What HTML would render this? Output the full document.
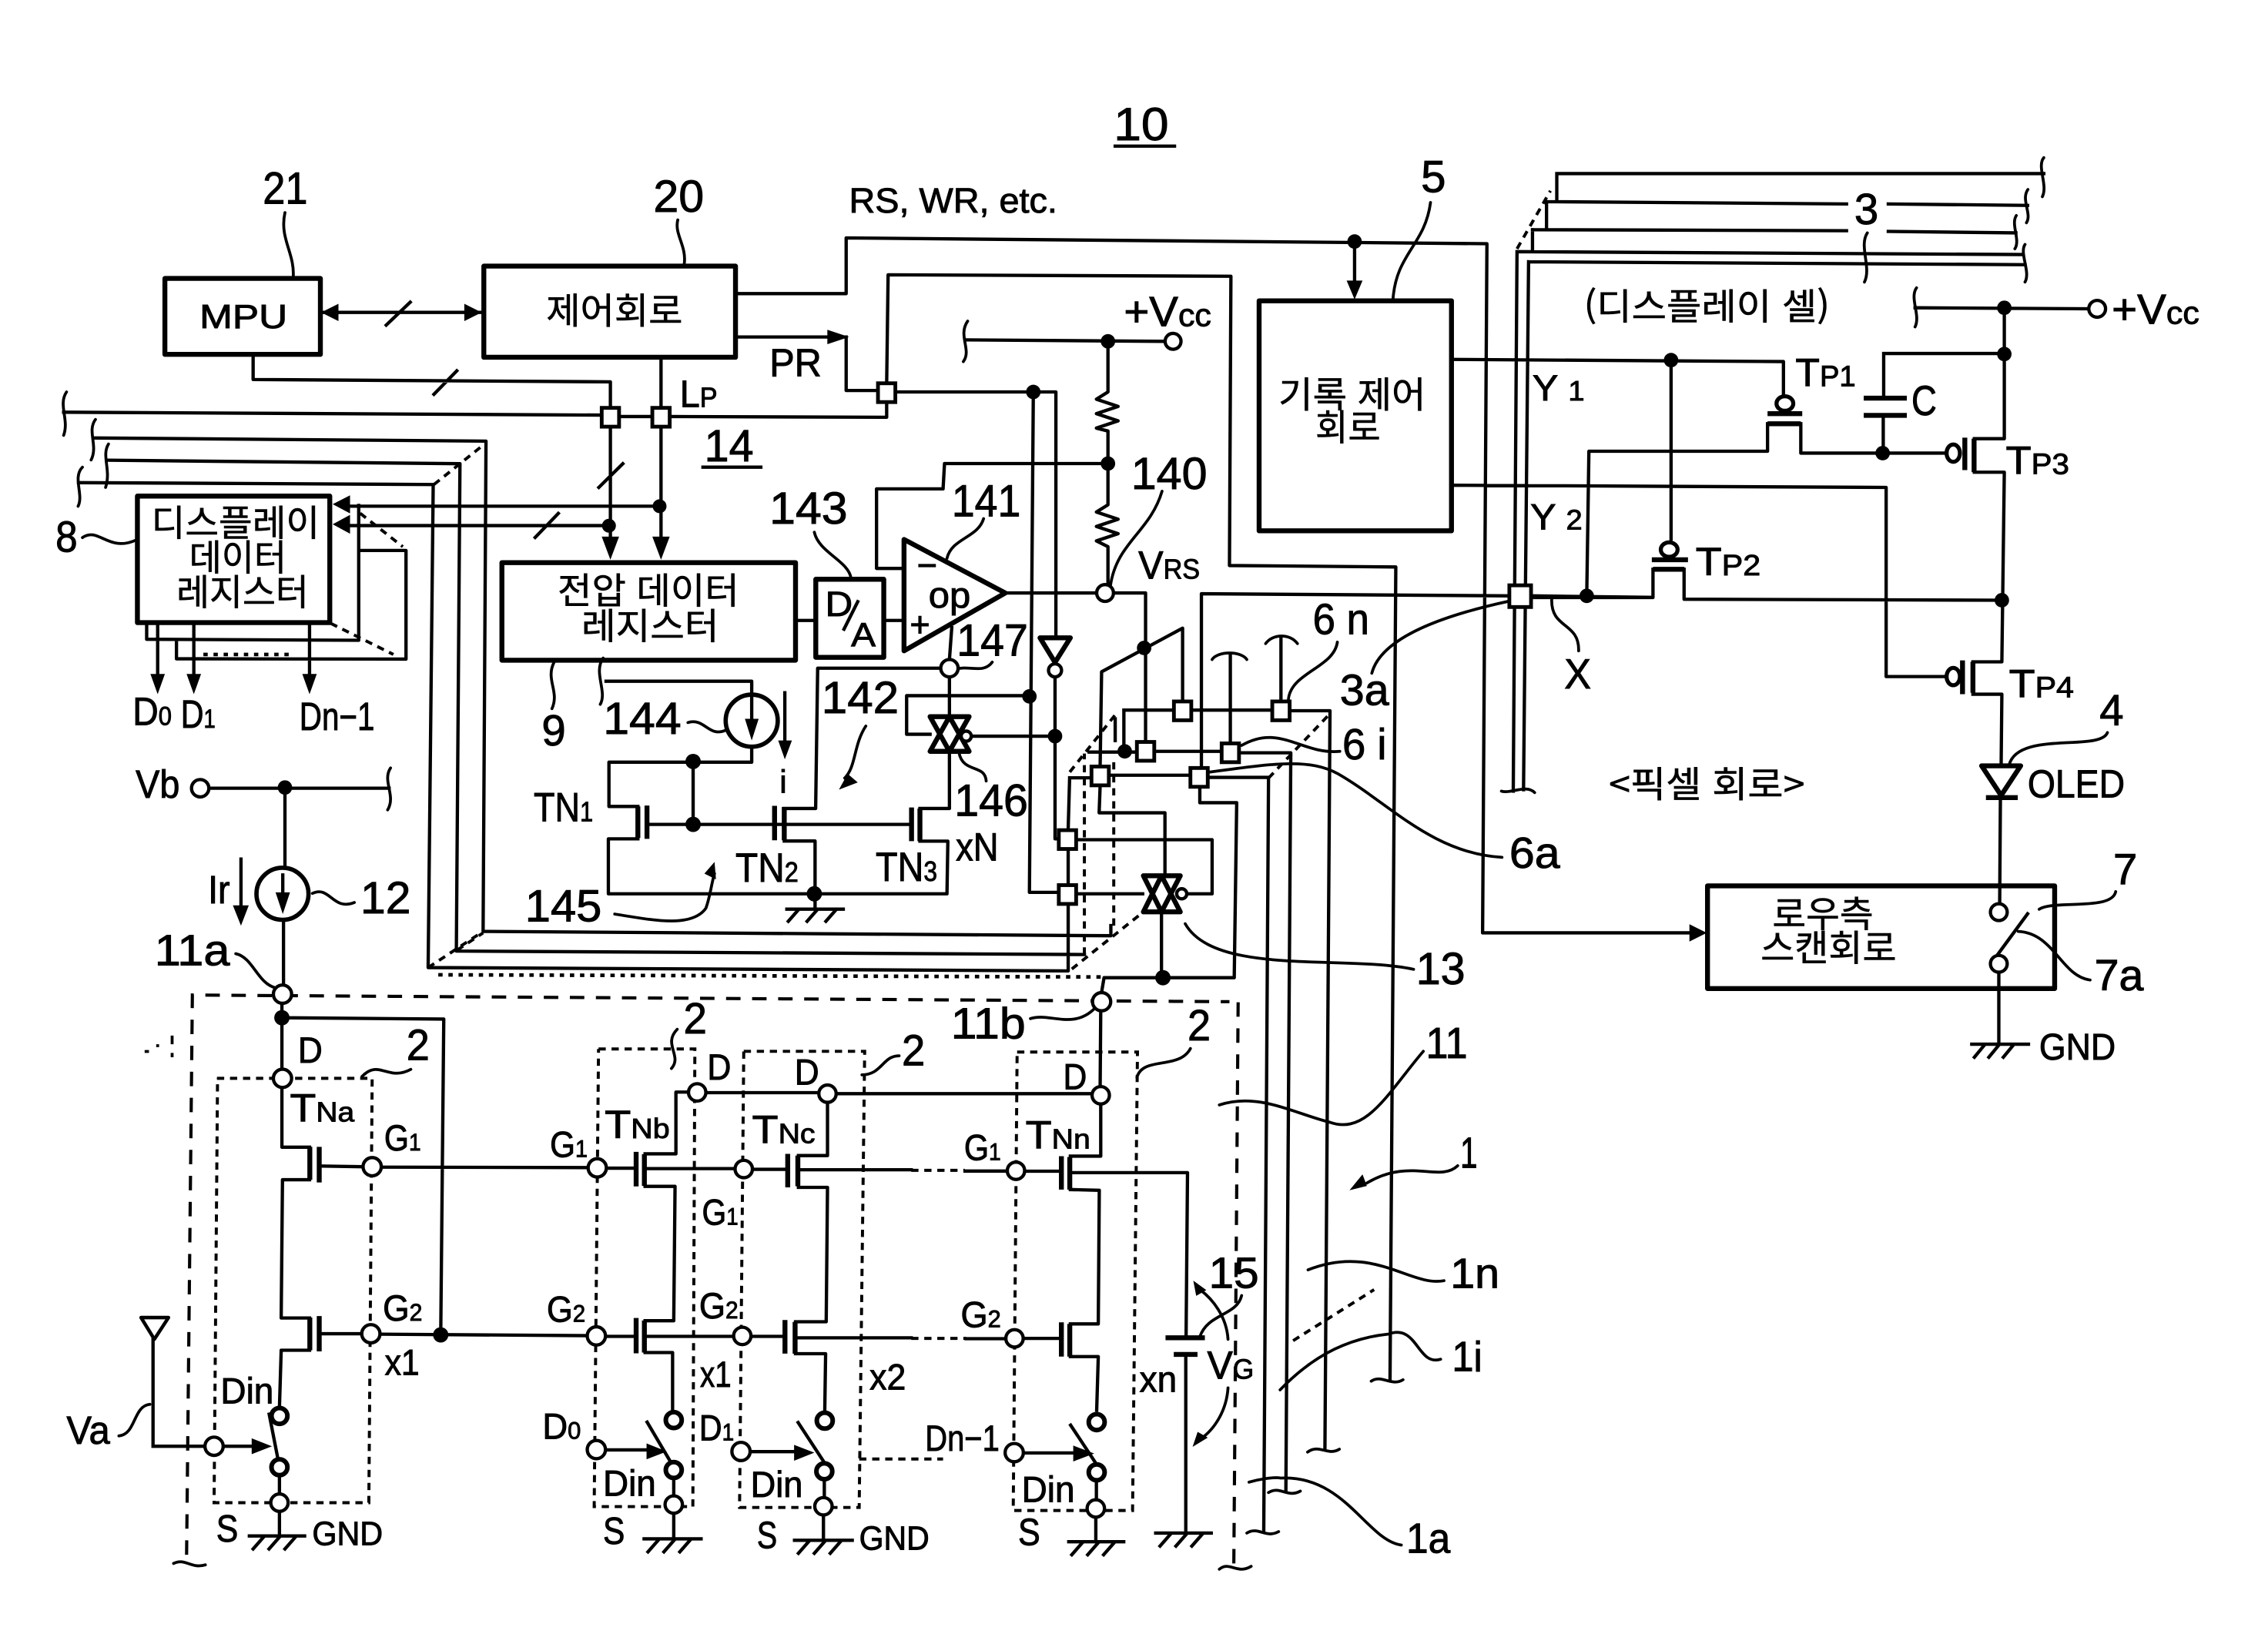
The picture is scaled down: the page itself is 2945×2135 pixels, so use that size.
<!DOCTYPE html>
<html lang="ko"><head><meta charset="utf-8"><title>Diagram</title>
<style>
html,body{margin:0;padding:0;background:#fff}
svg{display:block}
.w{fill:none;stroke:#000;stroke-width:2.3;stroke-linejoin:round;stroke-linecap:square}
.b{fill:none;stroke:#000;stroke-width:3.4;stroke-linejoin:round}
.c{fill:none;stroke:#000;stroke-width:2;stroke-linecap:round}
.da{fill:none;stroke:#000;stroke-width:2.2;stroke-dasharray:10 8}
.do{fill:none;stroke:#000;stroke-width:2.1;stroke-dasharray:5 4}
.dd{fill:none;stroke:#000;stroke-width:2.5;stroke-dasharray:3 4}
.k{fill:#000}
.o{fill:#fff;stroke:#000;stroke-width:2.3}
.s{fill:#fff;stroke:#000;stroke-width:2.6}
text{font-family:"Liberation Sans","Noto Sans CJK KR",sans-serif;fill:#000;stroke:#000;stroke-width:.5}
.h{font-family:"Noto Sans CJK KR","Liberation Sans",sans-serif;font-size:25px;stroke-width:.3}
</style></head><body>
<svg xmlns="http://www.w3.org/2000/svg" width="2945" height="2135" viewBox="0 0 1568 1136.7">
<rect width="1568" height="1137" fill="#fff"/>
<!-- boxes -->
<g class="b">
<rect x="114" y="192.5" width="107.5" height="52.5"/>
<rect x="334.5" y="184" width="174" height="63"/>
<rect x="95" y="343" width="133" height="87.5"/>
<rect x="347" y="389" width="203" height="67.5"/>
<rect x="564" y="400.5" width="47" height="54"/>
<rect x="870.5" y="208" width="133" height="159"/>
<rect x="1180.5" y="612.5" width="240" height="71"/>
<path d="M625,373L695,410L625,450Z"/>
<path d="M643,495.5H670L656.4,519.5ZM643,519.5H670L656.4,495.5Z"/>
<path d="M790.5,605.5H816L803,630.5ZM790.5,630.5H816L803,605.5Z"/>
<path d="M719,441H740L729.4,458Z"/>
<path d="M97.5,911L116.5,911L106.7,926Z" stroke-width="2.4"/>
<path d="M1370,529.5H1397L1383.5,550ZM1373,551.5H1395"/>
<!-- gate bars -->
<path d="M220.7,793V817.6M220.7,910V934.4M214.2,793V815.7M214.2,911V933.6"/>
<path d="M439.8,796.4V820.3M439.8,911.3V935.7M445.5,798V820M445.5,913V935.2"/>
<path d="M544.6,797.8V821M542.7,912.7V935.9M551.6,799V820.2M549.7,914V936"/>
<path d="M733.8,799.4V822.5M733.8,914.3V938M739.6,800V822.5M739.6,915.4V938"/>
<path d="M447.3,557V580M441,557.6V579.4M535.5,557.2V581M542.2,558V581M630.2,558.3V581.6M636,559V581.6"/>
<path d="M1358.4,302.6V325M1364.8,303.3V326.5M1356.8,456.6V480M1364,457.6V479"/>
<path d="M1222,286H1246M1222,293H1245M1142,387H1167M1142.8,393.6H1164.5"/>
<path d="M1288.5,275.3H1318.3M1288.5,287.2H1318.3M805.8,925H833M811.5,936.5H827.9"/>
</g>
<!-- wires -->
<path class="w" d="M222,216H333M267,224.8L283.6,208.9
M175,247V262.4L422,264V283M300,272.6L315.8,256.4
M457,248V283
M422,294V378M457,294V378M414,337L430.6,320.6M370,371.6L386,355
M44,285L416,287M428,288H451M463,288L613,288.5V277
M613,265L614,190L851,191L850,391L965,392L961,954
M509,203H585V164.5L1028,168.5L1025,645H1170
M509,233H578M585,233V270H607
M619,271H730V441M714.4,271L711.7,617H732
M729.4,467V580H733
M457,350H240M421,363.4H240
M101.4,431V442L248,442.7V349.5M122,443.6V455.5L280.7,455.7V380.6H249.2
M109,431V470M134,431V470M214,431V470
M668,235L805,236M766,236V271L758,276L773,281L758,286L773,291L758,296L766,298V349L758,354L773,359L758,364L773,369L758,374L766,378V404
M766,320.5H653L652,338H606V393H625
M695,410H758M770,410H792V513
M817.6,484V434.3L761.6,464.5L760.6,529M760.6,543L759.9,562H805.4V605M803,630V676
M830.6,530V410.5L1043,412M1059,412L1142.8,413V393.6M1164.3,393.6V414.3L1384,415
M829.5,544V555H855L853.3,676H763.3L761.6,686M761,699L760.6,751
M777,491H812M824,491H880M892,491.4H919.5L916,1002
M753,520H786M798,519.5H845M857,520.5H892.4L889,1031
M767,536H823M835,537.5H877L873.7,1059
M739.5,537.8H754M739.5,537.8L738.5,573M738.5,587V611M738.5,625V671.3L296,669L299.5,335L54.3,333.7
M74.7,318.2L318,320.6L315.5,657.6L749.7,660
M64.5,302.8L336,305L334,644L768,647V640
M777,491V519.5M771,497V512
M744,618H790M821,618H838V580.6H744
M850.6,453V514M885.6,441V485
M658,434L656.4,456M656.4,468V495M656.4,520V559H636
M650,462H565.3L563.9,559H542
M643,507.7H626.8V481H712M672,509H729
M636,581.6H655.3L654.7,618H420.6V580H441M441,557.6H421V527H519.7V516
M419,471H519.7V480M479.2,527V570M447,570H630
M542.2,581.5H563.5V618M563.5,618V628.6M544,628.6H583M552,629L545,637M565,629L558,637M578,629L571,637
M551,429H564M611,429H625
M542.6,479V515
M1004,248.5L1233,250V273M1155.3,249V372.7M1004,335.5L1304,337V467.8H1345
M1222,293V312H1098.5L1097,412M1245,293V313.3H1345.6M1302.3,244.4H1385.7M1302.3,244.4V275M1302,287V313
M1142.8,393.6V413.1H1059
M1077.6,120H1413M1076.3,120V139M1069.5,139.4L1276.6,141M1305.5,141L1401.8,142M1069.2,139.4V158M1059.5,158.8L1276.6,159.5M1305.5,160L1393.7,161M1059.5,158.8V173
M1048.8,174L1398.5,176L1398.5,176M1056.8,181L1400,183M1048.8,174L1046.2,547M1056.8,181L1053.3,546
M1324,212.8L1444,213.5M1385.7,212.8V303.3H1365M1365,326.5H1385.7L1384,457.6H1364M1364,480H1384L1383.5,529.5M1383,552L1382.5,624M1381.9,673V721.4M1363.2,722H1402.4M1372,722.5L1365,731M1382,722.5L1375,731M1392,722.5L1385,731
M1401.8,631.8L1380.9,660.3
M194.9,693V793.2H214M214,815.7H195.3L194.4,911.3H214M214,933.6H194.4L193.2,973
M194.9,703.7L306.8,704.6L304.7,923
M220.7,806.2L251,806.7M264,807L406,807.3M220.7,922.2L250,922.2M263,922.5L406,923.5
M186.1,977.8L192.2,1009M193.2,1021V1033M193.2,1045V1062M172.4,1062H210.6M182,1063L175,1071M193,1063L186,1071M204,1063L197,1071
M155,1000H175M105.8,1000H142M105.8,926V1000
M475,755.1H467.3V797.8H446M446,820.3H466.7L465.8,913.2H446M446,935.2H465V976
M447.4,983.3L464.2,1011.8M465.8,1022V1034M465.8,1047V1064M445.3,1064H484.7M455,1065L448,1073M466,1065L459,1073M477,1065L470,1073
M419,807.7H439M446,808H508M419,924H439M446,924H507
M419,1002.5H447
M488,755.5H566M578,756.2H755M572.1,762V799H552M552,821H572.1L571.2,913.9H550M550,936H570.8L570.2,976
M551.8,983.6L570.2,1011.7M569.9,1023V1035M569.3,1048V1065M549.3,1065H589.2M559,1066L552,1074M570,1066L563,1074M581,1066L574,1074
M520,808.5H544M552,808.8H630M520,924H543M550,925H630
M667.2,809.7H696M668,925.6H695
M519,1003.7H552
M761,763V799.4H740M740,822.5L760,823L759.3,915.4H740M740,938H759.3L758.2,975
M740.2,985.4L758.2,1012.6M758,1024V1037M757.6,1049V1066M738.9,1066H776.9M748,1067L741,1075M759,1067L752,1075M770,1067L763,1075
M708,809.8H733M740,810.8H821L820,925M819.8,937V1060M799,1060H837.4M809,1061L802,1069M820,1061L813,1069M831,1061L824,1069
M708,925.4H731
M708,1004.6H741
M197,545.5V600M196,636V681M145,545H269M166.6,594V628
M197,607V624"/>
<!-- dashed -->
<path class="da" d="M129,1075L133,688L850,692.6M856,693L853,1083"/>
<path class="do" d="M150,745.6H257.3L255,1039H148L150.4,745.6
M413.8,725.3H480.4L479,1041.7H410.8L413.8,725.3
M514.2,726.9H597.8L594,1042.3H511.3L514.2,726.9
M703.2,727.4H786.4L783,1044.4H700.5L703.2,727.4
M630,809.2H667M630,925.4H668M594,1008.8H652
M300,335L335,307M296,669L334,644M316,657L334,645
M228.6,431L272,452.5M249,354.9L278.5,378
M749.7,660V521M770,640V525.6
M741,670L790.5,630.5M739.6,533.8L772,493M877,538L918,495
M1048.8,172L1071.9,131.9M894,927L950,891.7"/>
<path class="dd" d="M303,674L762,675.5M140.6,452.5H203.6"/>
<!-- leaders / curves -->
<path class="c" d="M197,147C193,165 204,175 202.7,192
M468.6,152C466,162 475,170 473,183
M989,140C985,170 965,175 963,207.7
M680,358.6C676,372 658,372 654.7,386
M563,368C566,382 587,388 588.4,400
M803.4,339.6C795,368 772,375 767.7,405
M57,371.7C68,364 75,382 93.8,373.5
M383,458C377,470 387,478 381.6,490
M475.6,499.6C487,496 490,510 501.4,505
M425,632C450,636 478,642 488,628C491,620 492,610 494,604
M216,617.7C228,612 230,630 245,624
M163,659.4C175,662 178,680 190.5,683
M712.4,704.3C725,700 742,712 756.5,697.5
M661.4,462.5C670,460 680,466 686,457.8
M663,520.5C666,535 681,528 681.8,540
M598.6,502C590,515 592,530 584,538
M924.6,444C922,462 892,465 890.7,484
M948.4,465.5C955,440 1000,425 1043.5,415.6
M926.3,519.5C900,522 885,500 858.4,515.4
M1038.4,592.8C990,590 960,555 925,535C905,524 880,528 836.3,533.8
M977.3,670.2C930,660 840,675 819.4,638.7
M250.3,744.3C262,732 268,748 284,739.4
M468.2,711.7C458,722 472,730 464.2,738.8
M595.9,743.2C610,743 610,730 621.6,730
M103.6,971C92,972 94,992 82.2,992.8
M786,745C790,730 815,740 823,725
M1007.8,806C995,818 975,800 945,818
M984,726.9C960,755 945,785 919.5,776C895,770 870,755 843,764
M998.3,885.5C975,890 950,860 904.3,878
M996,939.8C980,945 980,915 960,922.4C935,925 910,935 885,961
M968.8,1068.3C945,1065 930,1020 885.6,1022C880,1021 870,1023 863.5,1024.8
M858.4,895.8C855,910 835,908 829.5,924.3
M849,926C848,910 838,898 830,892
M849,959.6C848,975 840,988 830,995
M1457,506.5C1452,520 1395,505 1389,529
M1462.7,616.5C1460,630 1420,622 1409.8,628.7
M1445,677.6C1425,675 1420,645 1395.3,644
M1072.8,414.3C1072,435 1092,430 1091.4,450"/>
<!-- squiggle ends -->
<path class="c" d="M46,271C40,280 48,290 44,301M66,290C60,298 68,308 63,318M75,307C70,315 77,325 73,337M57,323C50,330 58,342 54,350
M669,222C662,232 672,242 666,250M417,455C410,465 420,478 415,487M270,531C264,540 274,550 268,560
M1413,109C1408,115 1416,128 1412,136M1402,131C1397,138 1405,148 1401,154M1394,149C1390,155 1397,166 1393,172M1400,169C1396,175 1404,188 1400,195M1291,161C1285,170 1294,185 1289,195M1325,199C1320,206 1328,218 1324,226
M838,456C842,450 858,450 862,456M875,445C880,438 892,438 897,445
M120,1081C128,1077 132,1085 142,1082M843,1085C850,1079 855,1089 865,1083M948,955C955,950 962,959 970,954M904,1004C912,998 918,1007 926,1002M877,1032C885,1027 890,1036 899,1031M862,1060C870,1055 875,1064 884,1059M1038,547C1045,549 1055,542 1061,548"/>
<!-- arrowheads -->
<g class="k">
<path d="M222,216L234,210V222ZM333,216L321,210V222Z"/>
<path d="M230,348.6L242,342.5V355ZM230,362.5L242,356V369Z"/>
<path d="M422,387L416,371H428ZM457,387L451,371H463Z"/>
<path d="M936.5,207L931,194H942Z"/>
<path d="M587,233L572,228V238ZM1180,645L1168,639V651Z"/>
<path d="M109,480L104,466H114ZM134,480L129,466H139ZM214,480L209,466H219Z"/>
<path d="M519.7,512L515,497H524.5ZM542.6,525L538,512H547.5ZM196,632L191,617H201ZM166.6,640L161,626H172Z"/>
<path d="M580,546L586,535L593,541ZM494,596L487,604L495,608Z"/>
<path d="M188,1000L174,994.5V1005.5ZM461,1003.6L447,998V1009ZM563,1004.4L549,999V1010ZM756.5,1005L742,999.5V1010.5Z"/>
<path d="M825,885.5L834,892L827,896ZM824.5,1000.4L828,990L835,994ZM933,823L945,820L942,812Z"/>
<path d="M118,716h2v6h-2zM100,726h3v2h-3zM108,722h2v2h-2zM118,728h2v3h-2z"/>
</g>
<path class="w" d="M936.5,168V195"/>
<!-- filled dots -->
<g class="k">
<circle cx="456" cy="350" r="4.8"/><circle cx="421" cy="363.5" r="4.8"/>
<circle cx="936.5" cy="167" r="5"/><circle cx="766" cy="236" r="5"/><circle cx="766" cy="320.5" r="5"/>
<circle cx="714.4" cy="271" r="5"/><circle cx="791" cy="448" r="5"/><circle cx="711.7" cy="481.5" r="5"/>
<circle cx="729.4" cy="509" r="5"/><circle cx="777.6" cy="519.5" r="5"/><circle cx="804" cy="676" r="5.3"/>
<circle cx="479.2" cy="526.5" r="5.3"/><circle cx="479.2" cy="570" r="5.3"/><circle cx="563" cy="618" r="5.3"/>
<circle cx="1155.3" cy="249" r="5"/><circle cx="1097" cy="412" r="5"/><circle cx="1385.7" cy="212.8" r="5"/>
<circle cx="1385.7" cy="244.8" r="5"/><circle cx="1301.6" cy="313.3" r="5"/><circle cx="1384" cy="415" r="5"/>
<circle cx="197" cy="544.5" r="5"/><circle cx="194.9" cy="703.7" r="5.3"/><circle cx="304.7" cy="923" r="5.3"/>
</g>
<!-- squares -->
<g class="s">
<rect x="416" y="282" width="12" height="13"/><rect x="451" y="282" width="12" height="13"/>
<rect x="607" y="265" width="12" height="13"/><rect x="732" y="574" width="12" height="13"/>
<rect x="732" y="612" width="12" height="13"/><rect x="754.6" y="530" width="12" height="13"/>
<rect x="823" y="531" width="12" height="13"/><rect x="786" y="513" width="12" height="13"/>
<rect x="844.6" y="514" width="12" height="13"/><rect x="811.6" y="485" width="12" height="13"/>
<rect x="879.6" y="485" width="12" height="13"/><rect x="1043.5" y="404.7" width="15" height="15"/>
</g>
<!-- open circles -->
<g class="o">
<circle cx="811" cy="236" r="5.5"/><circle cx="764" cy="410" r="5.8"/><circle cx="656.4" cy="462" r="6"/>
<circle cx="729.4" cy="463.5" r="4.5"/><circle cx="668" cy="509" r="3.5"/><circle cx="817" cy="618" r="3.5"/>
<circle cx="519.7" cy="498.3" r="18" stroke-width="3"/><circle cx="195.3" cy="618" r="18" stroke-width="3"/>
<circle cx="138.4" cy="545" r="6"/><circle cx="195.3" cy="687.4" r="6.3"/><circle cx="761.6" cy="692.6" r="6.3"/>
<circle cx="195.3" cy="745.6" r="6.3"/><circle cx="257.3" cy="806.7" r="6.3"/><circle cx="256.4" cy="922.2" r="6.3"/>
<circle cx="412.9" cy="807.5" r="6.3"/><circle cx="412.3" cy="923.7" r="6.3"/>
<circle cx="482" cy="755.3" r="6"/><circle cx="572.1" cy="756.2" r="6"/><circle cx="514.2" cy="808.3" r="6"/>
<circle cx="513.2" cy="923.7" r="6"/><circle cx="702.4" cy="809.5" r="6"/><circle cx="701.4" cy="925.4" r="6"/>
<circle cx="761" cy="757.3" r="6"/>
<circle cx="148" cy="1000" r="6.3"/><circle cx="412.3" cy="1002.3" r="6.3"/><circle cx="512.3" cy="1003.6" r="6.3"/><circle cx="701.2" cy="1004.4" r="6.3"/>
<circle cx="193.2" cy="1039" r="6"/><circle cx="465.8" cy="1040.3" r="6"/><circle cx="569.3" cy="1041.5" r="6"/><circle cx="757.6" cy="1043" r="6"/>
<circle cx="193.2" cy="979" r="5.5" stroke-width="3.2"/><circle cx="193.2" cy="1014.5" r="5.5" stroke-width="3.2"/>
<circle cx="465.8" cy="981.9" r="5.5" stroke-width="3.2"/><circle cx="465.8" cy="1016.4" r="5.5" stroke-width="3.2"/>
<circle cx="570.2" cy="982.3" r="5.5" stroke-width="3.2"/><circle cx="569.9" cy="1017.3" r="5.5" stroke-width="3.2"/>
<circle cx="758.2" cy="983.3" r="5.5" stroke-width="3.2"/><circle cx="758.2" cy="1018" r="5.5" stroke-width="3.2"/>
<circle cx="1449.9" cy="213.5" r="5.8"/><circle cx="1381.9" cy="630.7" r="5.8"/><circle cx="1381.9" cy="666.4" r="5.8"/>
<ellipse cx="1234" cy="279" rx="5.8" ry="5" stroke-width="2.8"/><ellipse cx="1154" cy="380" rx="5.8" ry="5" stroke-width="2.8"/>
<ellipse cx="1350.4" cy="313.3" rx="4.6" ry="6" stroke-width="2.8"/><ellipse cx="1350.4" cy="467.8" rx="4.6" ry="6" stroke-width="2.8"/>
</g>
<path class="w" d="M519.7,482V505M195.5,605V624"/>
<path class="k" d="M519.7,512L515,497H524.5ZM195.5,632L190.5,617H200.5Z"/>
<!-- underlines -->
<path class="w" d="M771,101H812M486,323H526" stroke-linecap="butt"/>
<!-- text -->
<text x="770" y="97" font-size="32" textLength="38" lengthAdjust="spacingAndGlyphs">10</text>
<text x="181.7" y="140.7" font-size="31" textLength="31" lengthAdjust="spacingAndGlyphs">21</text>
<text x="451.7" y="146.4" font-size="31" textLength="35" lengthAdjust="spacingAndGlyphs">20</text>
<text x="982.4" y="132.8" font-size="31">5</text>
<text x="587" y="147" font-size="24" textLength="144" lengthAdjust="spacingAndGlyphs">RS, WR, etc.</text>
<text x="138" y="226.7" font-size="23" textLength="60.7" lengthAdjust="spacingAndGlyphs">MPU</text>
<text class="h" x="377.6" y="224" textLength="94.4" lengthAdjust="spacingAndGlyphs">제어회로</text>
<text x="532" y="260" font-size="27" textLength="36" lengthAdjust="spacingAndGlyphs">PR</text>
<text x="470" y="281.4" font-size="26" textLength="26" lengthAdjust="spacingAndGlyphs">L<tspan font-size="19">P</tspan></text>
<text x="487" y="319" font-size="31" textLength="34" lengthAdjust="spacingAndGlyphs">14</text>
<text x="777" y="225.5" font-size="29" textLength="60.4" lengthAdjust="spacingAndGlyphs">+V<tspan font-size="22">cc</tspan></text>
<text x="782" y="338" font-size="31" textLength="52.6" lengthAdjust="spacingAndGlyphs">140</text>
<text x="658" y="357" font-size="31" textLength="47.6" lengthAdjust="spacingAndGlyphs">141</text>
<text x="532" y="362" font-size="31" textLength="54" lengthAdjust="spacingAndGlyphs">143</text>
<text x="787" y="400.2" font-size="27" textLength="42.6" lengthAdjust="spacingAndGlyphs">V<tspan font-size="19">RS</tspan></text>
<text x="570.5" y="426" font-size="24" textLength="19" lengthAdjust="spacingAndGlyphs">D</text>
<path class="w" d="M593,416L583.5,435"/>
<text x="588.4" y="447" font-size="23" textLength="17" lengthAdjust="spacingAndGlyphs">A</text>
<text x="634" y="399" font-size="24">−</text>
<text x="642" y="420" font-size="25" textLength="29" lengthAdjust="spacingAndGlyphs">op</text>
<text x="629" y="440" font-size="24">+</text>
<text x="661.4" y="453.3" font-size="31" textLength="49.3" lengthAdjust="spacingAndGlyphs">147</text>
<text x="568" y="493" font-size="31" textLength="53.4" lengthAdjust="spacingAndGlyphs">142</text>
<text x="659.8" y="564" font-size="31" textLength="50.9" lengthAdjust="spacingAndGlyphs">146</text>
<text x="417" y="507.5" font-size="31" textLength="54" lengthAdjust="spacingAndGlyphs">144</text>
<text x="374.5" y="515.5" font-size="30">9</text>
<text x="363" y="637" font-size="31" textLength="53" lengthAdjust="spacingAndGlyphs">145</text>
<text x="539" y="548" font-size="22">i</text>
<text x="369" y="567.9" font-size="28" textLength="41" lengthAdjust="spacingAndGlyphs">TN<tspan font-size="19">1</tspan></text>
<text x="508.5" y="609.6" font-size="28" textLength="43.5" lengthAdjust="spacingAndGlyphs">TN<tspan font-size="19">2</tspan></text>
<text x="605.4" y="609" font-size="28" textLength="42.6" lengthAdjust="spacingAndGlyphs">TN<tspan font-size="19">3</tspan></text>
<text x="660.8" y="594.9" font-size="27" textLength="29.5" lengthAdjust="spacingAndGlyphs">xN</text>
<text x="907.6" y="438.4" font-size="30" textLength="39" lengthAdjust="spacingAndGlyphs">6 n</text>
<text x="926.3" y="487.3" font-size="30" textLength="34" lengthAdjust="spacingAndGlyphs">3a</text>
<text x="928" y="525" font-size="30" textLength="30.6" lengthAdjust="spacingAndGlyphs">6 i</text>
<text x="1043.5" y="600" font-size="30" textLength="35" lengthAdjust="spacingAndGlyphs">6a</text>
<text x="979" y="680.4" font-size="31" textLength="34" lengthAdjust="spacingAndGlyphs">13</text>
<text class="h" x="104.7" y="370.5" textLength="116.3" lengthAdjust="spacingAndGlyphs">디스플레이</text>
<text class="h" x="130.8" y="394.5" textLength="67.3" lengthAdjust="spacingAndGlyphs">데이터</text>
<text class="h" x="122" y="418.5" textLength="91.4" lengthAdjust="spacingAndGlyphs">레지스터</text>
<text class="h" x="385.5" y="417.5" textLength="125.5" lengthAdjust="spacingAndGlyphs">전압 데이터</text>
<text class="h" x="402" y="442" textLength="95" lengthAdjust="spacingAndGlyphs">레지스터</text>
<text class="h" x="883.9" y="281.8" textLength="101.9" lengthAdjust="spacingAndGlyphs">기록 제어</text>
<text class="h" x="909.4" y="304.4" textLength="45.1" lengthAdjust="spacingAndGlyphs">회로</text>
<text class="h" x="1225.3" y="641" textLength="69.9" lengthAdjust="spacingAndGlyphs">로우측</text>
<text class="h" x="1217.2" y="664.4" textLength="94" lengthAdjust="spacingAndGlyphs">스캔회로</text>
<text class="h" x="1095" y="221" textLength="170" lengthAdjust="spacingAndGlyphs">(디스플레이 셀)</text>
<text class="h" x="1112.3" y="551.3" textLength="135.4" lengthAdjust="spacingAndGlyphs">&lt;픽셀 회로&gt;</text>
<text x="38.4" y="381.5" font-size="30" textLength="15.2" lengthAdjust="spacingAndGlyphs">8</text>
<text x="91.7" y="501.3" font-size="27" textLength="27" lengthAdjust="spacingAndGlyphs">D<tspan font-size="18">0</tspan></text>
<text x="125" y="503" font-size="27" textLength="24" lengthAdjust="spacingAndGlyphs">D<tspan font-size="18">1</tspan></text>
<text x="207" y="504.8" font-size="27" textLength="52" lengthAdjust="spacingAndGlyphs">Dn−1</text>
<text x="1276" y="155" font-size="30" dx="6">3</text>
<text x="1460" y="224" font-size="29" textLength="60.5" lengthAdjust="spacingAndGlyphs">+V<tspan font-size="22">cc</tspan></text>
<text x="1059.5" y="276.8" font-size="25" textLength="36" lengthAdjust="spacingAndGlyphs">Y <tspan font-size="19">1</tspan></text>
<text x="1058" y="366" font-size="25" textLength="36" lengthAdjust="spacingAndGlyphs">Y <tspan font-size="19">2</tspan></text>
<text x="1081.5" y="475.9" font-size="29" textLength="18.5" lengthAdjust="spacingAndGlyphs">X</text>
<text x="1241.3" y="266.9" font-size="27" textLength="41.7" lengthAdjust="spacingAndGlyphs">T<tspan font-size="20">P1</tspan></text>
<text x="1172.3" y="397.7" font-size="27" textLength="44.9" lengthAdjust="spacingAndGlyphs">T<tspan font-size="20">P2</tspan></text>
<text x="1386.7" y="327.6" font-size="27" textLength="43.9" lengthAdjust="spacingAndGlyphs">T<tspan font-size="20">P3</tspan></text>
<text x="1388.9" y="482" font-size="27" textLength="44.9" lengthAdjust="spacingAndGlyphs">T<tspan font-size="20">P4</tspan></text>
<text x="1321.5" y="287" font-size="29" textLength="17.5" lengthAdjust="spacingAndGlyphs">C</text>
<text x="1451.5" y="501.4" font-size="30">4</text>
<text x="1401.8" y="551.3" font-size="27" textLength="67.2" lengthAdjust="spacingAndGlyphs">OLED</text>
<text x="1461" y="611.4" font-size="30">7</text>
<text x="1448" y="684.7" font-size="30" textLength="34" lengthAdjust="spacingAndGlyphs">7a</text>
<text x="1409.8" y="732.6" font-size="25.5" textLength="52.9" lengthAdjust="spacingAndGlyphs">GND</text>
<text x="93.8" y="551.6" font-size="27" textLength="30.5" lengthAdjust="spacingAndGlyphs">Vb</text>
<text x="143.8" y="624.4" font-size="27" textLength="15.2" lengthAdjust="spacingAndGlyphs">Ir</text>
<text x="249.2" y="631.5" font-size="31" textLength="34.8" lengthAdjust="spacingAndGlyphs">12</text>
<text x="106.9" y="667.4" font-size="30" textLength="52" lengthAdjust="spacingAndGlyphs">11a</text>
<text x="657.4" y="717.9" font-size="30" textLength="51.6" lengthAdjust="spacingAndGlyphs">11b</text>
<text x="821" y="719.3" font-size="30" textLength="16" lengthAdjust="spacingAndGlyphs">2</text>
<text x="281" y="732.9" font-size="30" textLength="16" lengthAdjust="spacingAndGlyphs">2</text>
<text x="472.5" y="714.4" font-size="30" textLength="16.2" lengthAdjust="spacingAndGlyphs">2</text>
<text x="623.5" y="736.6" font-size="30" textLength="16.1" lengthAdjust="spacingAndGlyphs">2</text>
<text x="206" y="734.8" font-size="25" textLength="17" lengthAdjust="spacingAndGlyphs">D</text>
<text x="489" y="746.4" font-size="25" textLength="16.5" lengthAdjust="spacingAndGlyphs">D</text>
<text x="549.3" y="750" font-size="25" textLength="17" lengthAdjust="spacingAndGlyphs">D</text>
<text x="735" y="753.2" font-size="25" textLength="16.4" lengthAdjust="spacingAndGlyphs">D</text>
<text x="200.5" y="775.5" font-size="27" textLength="44.5" lengthAdjust="spacingAndGlyphs">T<tspan font-size="19">Na</tspan></text>
<text x="418" y="786.8" font-size="27" textLength="45" lengthAdjust="spacingAndGlyphs">T<tspan font-size="19">Nb</tspan></text>
<text x="519.9" y="790.4" font-size="27" textLength="43.7" lengthAdjust="spacingAndGlyphs">T<tspan font-size="19">Nc</tspan></text>
<text x="709" y="794" font-size="27" textLength="44.8" lengthAdjust="spacingAndGlyphs">T<tspan font-size="19">Nn</tspan></text>
<text x="265.6" y="795.3" font-size="25" textLength="25.4" lengthAdjust="spacingAndGlyphs">G<tspan font-size="17">1</tspan></text>
<text x="264.7" y="913.2" font-size="25" textLength="27.3" lengthAdjust="spacingAndGlyphs">G<tspan font-size="17">2</tspan></text>
<text x="380.2" y="800" font-size="25" textLength="26" lengthAdjust="spacingAndGlyphs">G<tspan font-size="17">1</tspan></text>
<text x="378" y="914" font-size="25" textLength="26.7" lengthAdjust="spacingAndGlyphs">G<tspan font-size="17">2</tspan></text>
<text x="485.3" y="846.7" font-size="25" textLength="25.1" lengthAdjust="spacingAndGlyphs">G<tspan font-size="17">1</tspan></text>
<text x="483.4" y="911.4" font-size="25" textLength="27" lengthAdjust="spacingAndGlyphs">G<tspan font-size="17">2</tspan></text>
<text x="666.5" y="802" font-size="25" textLength="25.5" lengthAdjust="spacingAndGlyphs">G<tspan font-size="17">1</tspan></text>
<text x="664.2" y="917.5" font-size="25" textLength="27.8" lengthAdjust="spacingAndGlyphs">G<tspan font-size="17">2</tspan></text>
<text x="266" y="950.7" font-size="25" textLength="24" lengthAdjust="spacingAndGlyphs">x1</text>
<text x="484" y="959" font-size="25" textLength="21.6" lengthAdjust="spacingAndGlyphs">x1</text>
<text x="601.2" y="960.8" font-size="25" textLength="25.1" lengthAdjust="spacingAndGlyphs">x2</text>
<text x="787.8" y="962.3" font-size="25" textLength="25.8" lengthAdjust="spacingAndGlyphs">xn</text>
<text x="152.5" y="970.2" font-size="25" textLength="36.7" lengthAdjust="spacingAndGlyphs">Din</text>
<text x="416.9" y="1034.3" font-size="25" textLength="36.6" lengthAdjust="spacingAndGlyphs">Din</text>
<text x="518.9" y="1034.9" font-size="25" textLength="36.1" lengthAdjust="spacingAndGlyphs">Din</text>
<text x="706.3" y="1038.4" font-size="25" textLength="36.7" lengthAdjust="spacingAndGlyphs">Din</text>
<text x="375" y="994.7" font-size="25" textLength="26.6" lengthAdjust="spacingAndGlyphs">D<tspan font-size="17">0</tspan></text>
<text x="483.4" y="995.8" font-size="25" textLength="24.1" lengthAdjust="spacingAndGlyphs">D<tspan font-size="17">1</tspan></text>
<text x="639.6" y="1003" font-size="25" textLength="51.4" lengthAdjust="spacingAndGlyphs">Dn−1</text>
<text x="46" y="998.2" font-size="27" textLength="30" lengthAdjust="spacingAndGlyphs">Va</text>
<text x="149.5" y="1066" font-size="26" textLength="15.2" lengthAdjust="spacingAndGlyphs">S</text>
<text x="416.9" y="1067.5" font-size="26" textLength="15.1" lengthAdjust="spacingAndGlyphs">S</text>
<text x="523.3" y="1070.4" font-size="26" textLength="14" lengthAdjust="spacingAndGlyphs">S</text>
<text x="703.9" y="1068.3" font-size="26" textLength="15.3" lengthAdjust="spacingAndGlyphs">S</text>
<text x="215.8" y="1068.3" font-size="23" textLength="48.9" lengthAdjust="spacingAndGlyphs">GND</text>
<text x="594" y="1071.6" font-size="23" textLength="48.5" lengthAdjust="spacingAndGlyphs">GND</text>
<text x="835.7" y="890.4" font-size="30" textLength="34.6" lengthAdjust="spacingAndGlyphs">15</text>
<text x="834.6" y="953.4" font-size="27" textLength="32.3" lengthAdjust="spacingAndGlyphs">V<tspan font-size="19">G</tspan></text>
<text x="985.8" y="731.5" font-size="30" textLength="28.8" lengthAdjust="spacingAndGlyphs">11</text>
<text x="1009.5" y="807.5" font-size="30" textLength="12" lengthAdjust="spacingAndGlyphs">1</text>
<text x="1002.7" y="890.4" font-size="29" textLength="34" lengthAdjust="spacingAndGlyphs">1n</text>
<text x="1003.8" y="948" font-size="29" textLength="21" lengthAdjust="spacingAndGlyphs">1i</text>
<text x="972.2" y="1073.7" font-size="29" textLength="30.5" lengthAdjust="spacingAndGlyphs">1a</text>
</svg>
</body></html>
